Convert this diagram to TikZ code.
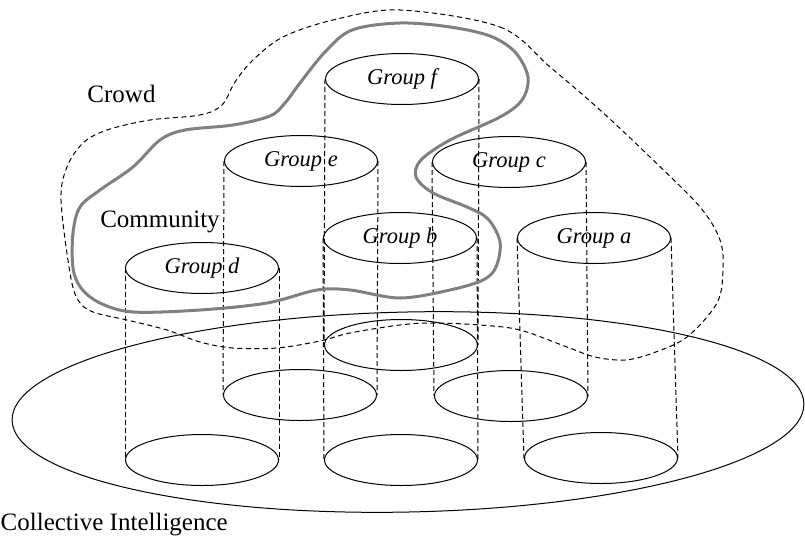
\documentclass[tikz,border=0pt]{standalone}
\usepackage{fontspec}
\setmainfont{Liberation Serif}
\usetikzlibrary{shapes.geometric}
\begin{document}
\begin{tikzpicture}[x=1pt,y=-1pt,
  disc/.style={ellipse,draw,line width=1pt,minimum width=153pt,minimum height=51pt,inner sep=0pt,font=\fontsize{22.5}{26}\selectfont\itshape},
  colline/.style={draw,line width=1pt,dash pattern=on 5pt off 3pt},
  crowdline/.style={draw,line width=1pt,dash pattern=on 5pt off 3.5pt},
  commline/.style={draw=black!50,line width=3pt},
  lbl/.style={font=\fontsize{25}{30}\selectfont,inner sep=0pt}]
\useasboundingbox (0,0) rectangle (805,538);
% base plane
\node[ellipse,draw,line width=1pt,minimum width=792pt,minimum height=200pt,rotate=1.2,inner sep=0pt] (ci) at (408,412) {};
% top discs
\node[disc] (gf) at (402,79) {Group f};
\node[disc] (ge) at (301,161) {Group e};
\node[disc] (gc) at (509,162) {Group c};
\node[disc] (gb) at (400,238) {Group b};
\node[disc] (ga) at (594,238) {Group a};
\node[disc] (gd) at (202,268) {Group d};
% bottom discs
\node[disc] (fB) at (401,345) {};
\node[disc] (eB) at (300,395) {};
\node[disc] (cB) at (511,396) {};
\node[disc] (dB) at (202,460) {};
\node[disc] (bB) at (401,460) {};
\node[disc] (aB) at (601,458) {};
% columns
\foreach \t/\b in {gf/fB,ge/eB,gc/cB,gd/dB,gb/bB,ga/aB}{
  \path[colline] (\t.west) -- (\b.west);
  \path[colline] (\t.east) -- (\b.east);
}
% crowd boundary
\path[crowdline] plot[smooth cycle,tension=0.55] coordinates {
 (400,10) (500,27) (550,67) (600,110) (650,157) (700,207) (720,240) (723,270)
 (717,303) (687,337) (653,353) (625,360) (595,357) (567,347) (520,330) (480,325)
 (433,323) (400,325) (350,333) (320,341) (277,348) (233,348) (200,342) (167,330)
 (127,320) (93,312) (78,300) (70,273) (61,200) (67,167) (83,143) (107,130)
 (150,120) (200,115) (222,105) (235,82) (253,60) (283,37) (333,20)};
% community boundary
\path[commline] plot[smooth cycle,tension=0.55] coordinates {
 (400,23) (450,27) (490,36) (515,52) (528,77) (522,100) (500,117) (450,140)
 (421,160) (416,177) (433,193) (467,207) (488,219) (500,242) (496,267) (483,280)
 (450,290) (400,298) (350,290) (317,290) (267,303) (200,310) (133,312) (100,303)
 (81,288) (73,268) (73,233) (80,207) (100,190) (133,167) (160,140) (185,130)
 (233,125) (270,116) (285,103) (300,83) (325,52) (352,30)};
% labels
\node[lbl,anchor=base] (crowd) at (121.5,102) {Crowd};
\node[lbl,anchor=base] (comm) at (160,227) {Community};
\node[lbl,anchor=base west] (coll) at (0.5,530) {Collective Intelligence};
\end{tikzpicture}
\end{document}
